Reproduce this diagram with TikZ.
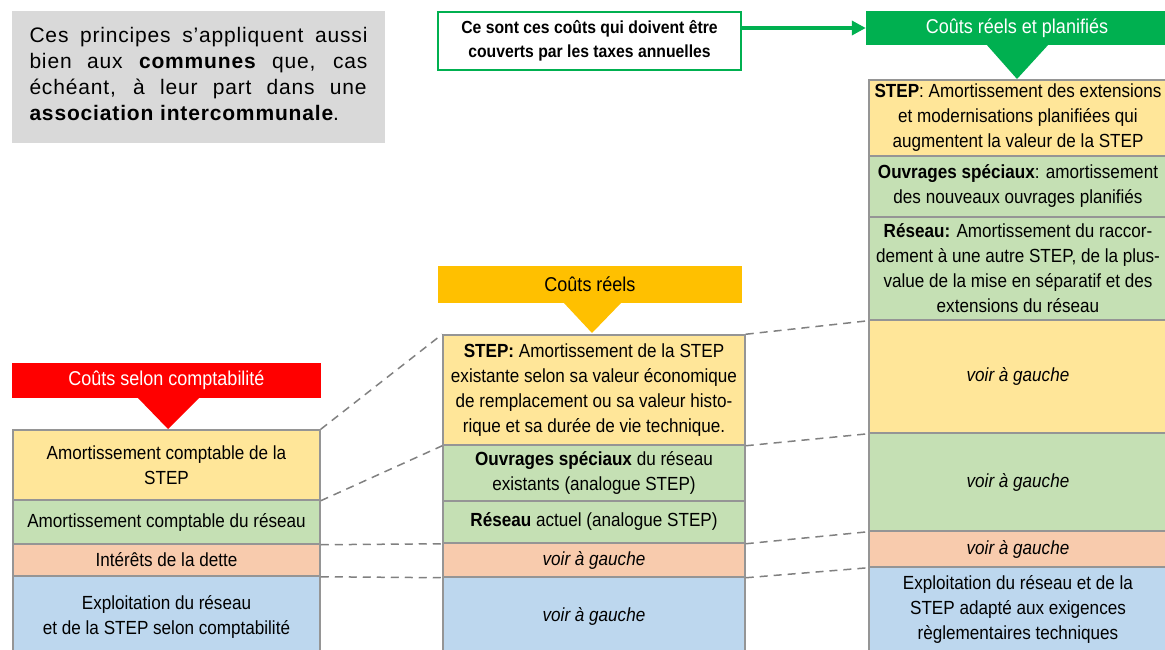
\documentclass[tikz,border=0pt]{standalone}
\usepackage{fontspec}
\setmainfont[FakeStretch=0.9]{Liberation Sans}
\newfontfamily\notefont[LetterSpace=4]{Liberation Sans}
\usetikzlibrary{arrows.meta}
\definecolor{yel}{HTML}{FFE699}
\definecolor{grn}{HTML}{C5E0B4}
\definecolor{org}{HTML}{F8CBAD}
\definecolor{blu}{HTML}{BDD7EE}
\definecolor{bordergray}{HTML}{959595}
\definecolor{dashgray}{HTML}{808080}
\definecolor{notegray}{HTML}{D9D9D9}
\definecolor{hred}{HTML}{FF0000}
\definecolor{hyel}{HTML}{FFC000}
\definecolor{hgrn}{HTML}{00B050}
\begin{document}
\begin{tikzpicture}[x=1pt,y=-1pt,
  row/.style={draw=bordergray, line width=1.5pt, inner sep=0pt, align=center,
    font=\fontsize{19}{25}\selectfont},
  header/.style={inner sep=0pt, align=center, font=\fontsize{20}{22}\selectfont},
  conn/.style={draw=dashgray, line width=1.5pt, dash pattern=on 8pt off 6pt},
  garrow/.style={draw=hgrn, line width=4pt, -{Triangle[length=14pt,width=14pt]}}
]
\useasboundingbox (0,0) rectangle (1165,650);

% note box
\node[fill=notegray, minimum width=373, minimum height=132, inner sep=0pt] (note) at (198.5,77) {};
\node[inner sep=0pt, text width=338pt, align=justify, font=\notefont\fontsize{21}{26}\selectfont]
  (notetext) at (198.5,74) {Ces principes s’appliquent aussi\linebreak bien aux \textbf{communes} que, cas\linebreak échéant, à leur part dans une\linebreak \textbf{association intercommunale}.};

% green framed box
\node[draw=hgrn, line width=2pt, minimum width=303, minimum height=58, inner sep=0pt,
  align=center, font=\bfseries\fontsize{17.5}{24}\selectfont]
  (gbox) at (589.5,41) {Ce sont ces coûts qui doivent être\\couverts par les taxes annuelles};

% headers
\node[header, fill=hred, text=white, minimum width=309, minimum height=35] (hl) at (166.5,380.5) {Coûts selon comptabilité};
\fill[hred] (137,397) -- (200,397) -- (168,429) -- cycle;
\node[header, fill=hyel, text=black, minimum width=304, minimum height=37] (hm) at (590,284.5) {Coûts réels};
\fill[hyel] (563,302) -- (622,302) -- (592,333) -- cycle;
\node[header, fill=hgrn, text=white, minimum width=302, minimum height=34] (hr) at (1017,28) {Coûts réels et planifiés};
\fill[hgrn] (986,44) -- (1049,44) -- (1017,79) -- cycle;

\draw[garrow] (gbox.east |- hr.west) -- (hr.west);

% left column
\node[row, fill=yel, minimum width=307, minimum height=70] (l1) at (166.5,465) {Amortissement comptable de la\\STEP};
\node[row, fill=grn, minimum width=307, minimum height=44] (l2) at (166.5,522) {Amortissement comptable du réseau};
\node[row, fill=org, minimum width=307, minimum height=32] (l3) at (166.5,560) {Intérêts de la dette};
\node[row, fill=blu, minimum width=307, minimum height=82] (l4) at (166.5,617) {Exploitation du réseau\\et de la STEP selon comptabilité};

% middle column
\node[row, fill=yel, minimum width=302, minimum height=110] (m1) at (594,390) {\textbf{STEP:} Amortissement de la STEP\\existante selon sa valeur économique\\de remplacement ou sa valeur histo-\\rique et sa durée de vie technique.};
\node[row, fill=grn, minimum width=302, minimum height=56] (m2) at (594,473) {\textbf{Ouvrages spéciaux} du réseau\\existants (analogue STEP)};
\node[row, fill=grn, minimum width=302, minimum height=42] (m3) at (594,522) {\textbf{Réseau} actuel (analogue STEP)};
\node[row, fill=org, minimum width=302, minimum height=34] (m4) at (594,560) {\textit{voir à gauche}};
\node[row, fill=blu, minimum width=302, minimum height=78] (m5) at (594,616) {\textit{voir à gauche}};

% right column
\node[row, fill=yel, minimum width=298, minimum height=76] (r1) at (1018,118) {\textbf{STEP}: Amortissement des extensions\\et modernisations planifiées qui\\augmentent la valeur de la STEP};
\node[row, fill=grn, minimum width=298, minimum height=61] (r2) at (1018,186.5) {\textbf{Ouvrages spéciaux}: amortissement\\des nouveaux ouvrages planifiés};
\node[row, fill=grn, minimum width=298, minimum height=103] (r3) at (1018,268.5) {\textbf{Réseau:} Amortissement du raccor-\\dement à une autre STEP, de la plus-\\value de la mise en séparatif et des\\extensions du réseau};
\node[row, fill=yel, minimum width=298, minimum height=113] (r4) at (1018,376.5) {\textit{voir à gauche}};
\node[row, fill=grn, minimum width=298, minimum height=98] (r5) at (1018,482) {\textit{voir à gauche}};
\node[row, fill=org, minimum width=298, minimum height=36] (r6) at (1018,549) {\textit{voir à gauche}};
\node[row, fill=blu, minimum width=298, minimum height=84] (r7) at (1018,609) {Exploitation du réseau et de la\\STEP adapté aux exigences\\règlementaires techniques};

% dashed connectors
\draw[conn] (l1.north east) -- (m1.north west);
\draw[conn] (l1.south east) -- (m1.south west);
\draw[conn] (l2.south east) -- (m3.south west);
\draw[conn] (l3.south east) -- (m4.south west);
\draw[conn] (m1.north east) -- (r3.south west);
\draw[conn] (m1.south east) -- (r4.south west);
\draw[conn] (m3.south east) -- (r5.south west);
\draw[conn] (m4.south east) -- (r6.south west);
\end{tikzpicture}
\end{document}
